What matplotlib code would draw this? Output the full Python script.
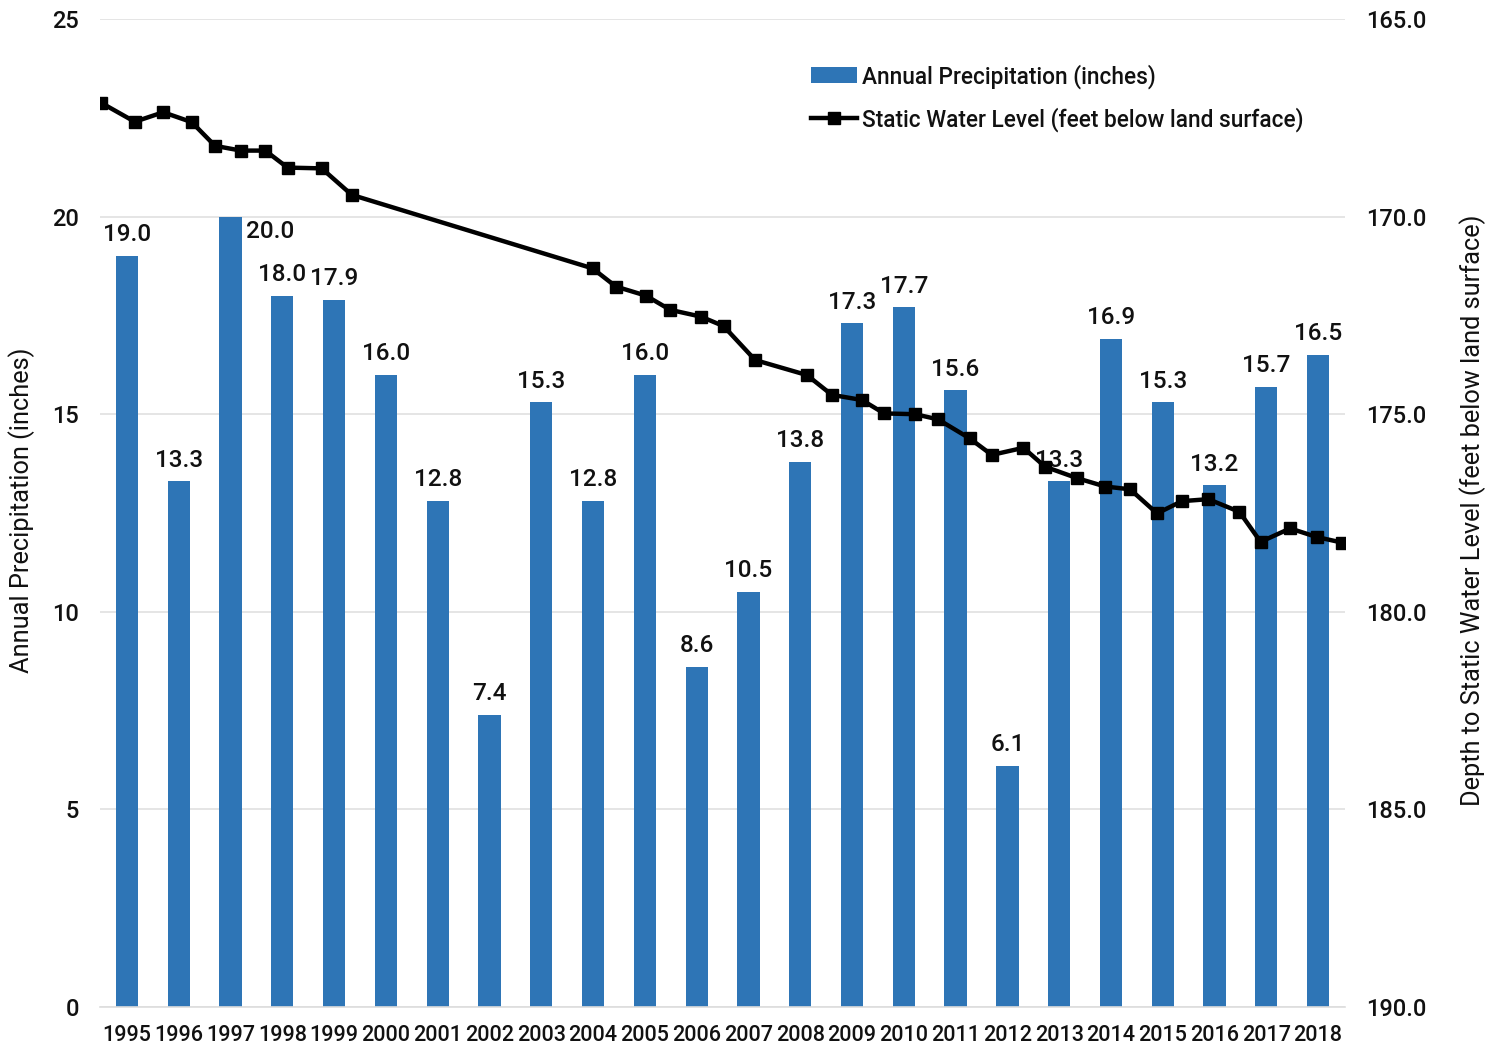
import matplotlib
matplotlib.use("Agg")
import matplotlib.pyplot as plt
from matplotlib.ticker import FixedLocator, FuncFormatter

plt.rcParams['font.family'] = ['Roboto', 'DejaVu Sans']

years = [1995, 1996, 1997, 1998, 1999, 2000, 2001, 2002, 2003, 2004, 2005, 2006,
         2007, 2008, 2009, 2010, 2011, 2012, 2013, 2014, 2015, 2016, 2017, 2018]
precip = [19.0, 13.3, 20.0, 18.0, 17.9, 16.0, 12.8, 7.4, 15.3, 12.8, 16.0, 8.6,
          10.5, 13.8, 17.3, 17.7, 15.6, 6.1, 13.3, 16.9, 15.3, 13.2, 15.7, 16.5]

# Static water level measurements: decimal date and depth (ft below land surface)
level_dates = [1994.50, 1995.15, 1995.70, 1996.25, 1996.70, 1997.20, 1997.67, 1998.10,
               1998.76, 1999.34, 2003.99, 2004.44, 2005.02, 2005.49, 2006.08, 2006.52,
               2007.13, 2008.13, 2008.61, 2009.19, 2009.62, 2010.22, 2010.66, 2011.27,
               2011.70, 2012.31, 2012.73, 2013.35, 2013.89, 2014.37, 2014.89, 2015.37,
               2015.88, 2016.48, 2016.89, 2017.46, 2017.98, 2018.47]
level_depth = [167.12, 167.60, 167.36, 167.61, 168.21, 168.33, 168.33, 168.76,
               168.78, 169.45, 171.31, 171.77, 172.00, 172.36, 172.53, 172.77,
               173.63, 174.01, 174.51, 174.64, 174.98, 175.00, 175.13, 175.61,
               176.03, 175.85, 176.33, 176.62, 176.83, 176.90, 177.51, 177.20,
               177.15, 177.47, 178.23, 177.89, 178.11, 178.25]

left_ticks = [0, 5, 10, 15, 20, 25]
right_ticks = [165, 170, 175, 180, 185, 190]

bar_color = '#2E75B6'
txt = '#111111'
fs = 17

fig = plt.figure(figsize=(14.91, 10.49), dpi=100)
ax = fig.add_axes([0.0671, 0.04, 0.8350, 0.9419])
ax2 = ax.twinx()

ymax = 20.0
xpos = list(range(len(years)))
bars = ax.bar(xpos, precip, width=0.43, color=bar_color, zorder=2)
for x, v in zip(xpos, precip):
    if v >= ymax:
        # label placed beside the bar top when the bar reaches the top of the chart
        ax.annotate(f"{v:.1f}", (x + 0.215, v), xytext=(3, -11), textcoords='offset points',
                    ha='left', va='center', fontsize=17.5, fontweight='medium', color=txt, zorder=3)
    else:
        ax.annotate(f"{v:.1f}", (x, v), xytext=(0, 7), textcoords='offset points',
                    ha='center', va='bottom', fontsize=17.5, fontweight='medium', color=txt, zorder=3)

ax.set_xlim(-0.52, len(years) - 1 + 0.52)
ax.set_ylim(0, 25)
ax.yaxis.set_major_locator(FixedLocator(left_ticks))
ax.set_xticks(xpos)
ax.set_xticklabels([str(y) for y in years])
ax.grid(axis='y', color='#e0e0e0', linewidth=1.2, zorder=0)
ax.set_axisbelow(True)
for s in ['top', 'left', 'right']:
    ax.spines[s].set_visible(False)
ax.spines['bottom'].set_color('#dddddd')
ax.spines['bottom'].set_linewidth(1.2)
ax.tick_params(axis='both', length=0, labelsize=fs, labelcolor=txt)
ax.tick_params(axis='x', labelsize=15.5, pad=13)
ax.tick_params(axis='y', pad=15)
for lbl in ax.get_xticklabels() + ax.get_yticklabels():
    lbl.set_fontweight('medium')
ax.set_ylabel('Annual Precipitation (inches)', fontsize=18.3, color=txt)
ax.yaxis.set_label_coords(-0.052, 0.503)

line_x = [d - years[0] for d in level_dates]
ax2.plot(line_x, level_depth, color='black', linewidth=3.2, marker='s', markersize=8,
         zorder=5, label='Static Water Level (feet below land surface)')
ax2.set_ylim(190, 165)
ax2.yaxis.set_major_locator(FixedLocator(right_ticks))
ax2.yaxis.set_major_formatter(FuncFormatter(lambda v, p: f"{v:.1f}"))
for s in ['top', 'left', 'right', 'bottom']:
    ax2.spines[s].set_visible(False)
ax2.tick_params(axis='y', length=0, labelsize=fs, labelcolor=txt, pad=15)
for lbl in ax2.get_yticklabels():
    lbl.set_fontweight('medium')
ax2.set_ylabel('Depth to Static Water Level (feet below land surface)', fontsize=18.3,
               color=txt, rotation=90)
ax2.yaxis.set_label_coords(1.0915, 0.503)
ax2.set_zorder(ax.get_zorder() + 1)
ax.patch.set_visible(False)

handles = [bars, ax2.get_lines()[0]]
labels = ['Annual Precipitation (inches)', 'Static Water Level (feet below land surface)']
leg = ax2.legend(handles, labels, loc='upper left', bbox_to_anchor=(0.555, 0.975),
                 frameon=False, fontsize=16.3, handlelength=2.0, handletextpad=0.25,
                 labelspacing=0.8)
for t in leg.get_texts():
    t.set_color(txt)
    t.set_fontweight('medium')

fig.savefig('out.png', dpi=100)
